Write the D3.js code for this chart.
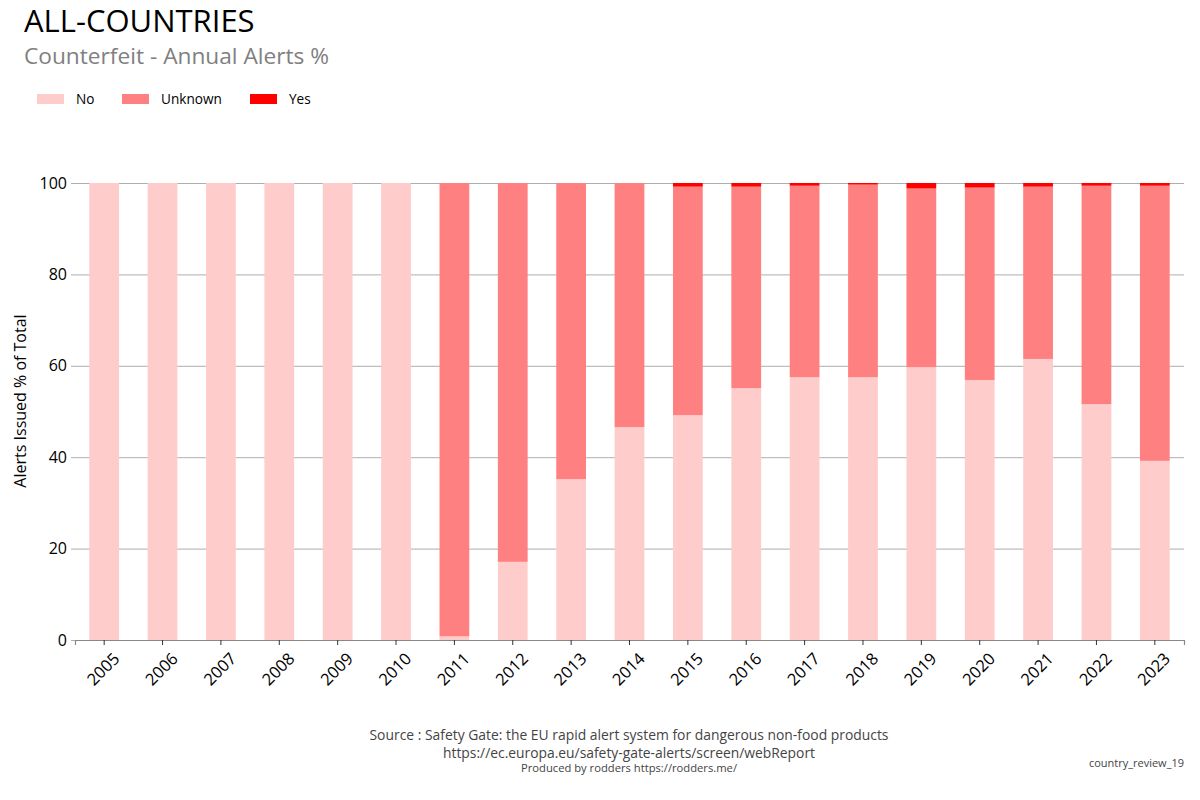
<!DOCTYPE html>
<html>
<head>
<meta charset="utf-8">
<script src="https://cdn.jsdelivr.net/npm/d3@7"></script>
<style>
  body { margin: 0; background: #fff; }
  svg { font-family: "Open Sans", sans-serif; }
  .grid line { stroke: #999; stroke-width: 0.8; }
  .grid .domain { display: none; }
</style>
</head>
<body>
<div id="chart"></div>
<script>
(function () {

var years = ["2005", "2006", "2007", "2008", "2009", "2010", "2011", "2012", "2013", "2014",
             "2015", "2016", "2017", "2018", "2019", "2020", "2021", "2022", "2023"];
var noPct  = [100, 100, 100, 100, 100, 100, 0.8, 17.1, 35.2, 46.6,
              49.2, 55.1, 57.5, 57.5, 59.7, 56.9, 61.5, 51.6, 39.2];
var yesPct = [0, 0, 0, 0, 0, 0, 0, 0, 0, 0,
              0.8, 0.8, 0.6, 0.35, 1.2, 1.0, 0.8, 0.6, 0.6];
var keys = ["No", "Unknown", "Yes"];
var colors = ["#ffcccc", "#ff8080", "#ff0000"];
var yTicks = [0, 20, 40, 60, 80, 100];

var width = 1200, height = 800;
var margin = {top: 183, right: 16, bottom: 160, left: 75};

var rows = years.map(function (yr, i) {
  return {year: yr, No: noPct[i], Yes: yesPct[i], Unknown: 100 - noPct[i] - yesPct[i]};
});

var svg = d3.select("#chart").append("svg")
    .attr("width", width)
    .attr("height", height);

var x = d3.scaleBand()
    .domain(years)
    .range([margin.left, width - margin.right])
    .paddingInner(0.49)
    .paddingOuter(0.245);

var y = d3.scaleLinear()
    .domain([0, 100])
    .range([height - margin.bottom, margin.top]);

var color = d3.scaleOrdinal().domain(keys).range(colors);

// grid + left ticks
var yAxis = svg.append("g")
    .attr("class", "grid")
    .attr("transform", "translate(" + margin.left + ",0)")
    .call(d3.axisLeft(y).tickValues(yTicks)
      .tickSize(-(width - margin.left - margin.right)).tickPadding(8));
yAxis.attr("font-family", "Open Sans").attr("font-size", 16);
yAxis.selectAll(".tick line").attr("x1", -4);
yAxis.selectAll("text").attr("fill", "#000");

var series = d3.stack().keys(keys)(rows);

svg.append("g").selectAll("g")
  .data(series)
  .enter().append("g")
    .attr("fill", function (d) { return color(d.key); })
  .selectAll("rect")
  .data(function (d) { return d; })
  .enter().append("rect")
    .attr("x", function (d) { return x(d.data.year); })
    .attr("width", x.bandwidth())
    .attr("y", function (d) { return y(d[1]); })
    .attr("height", function (d) { return y(d[0]) - y(d[1]); });

var xAxis = svg.append("g")
    .attr("transform", "translate(0," + (height - margin.bottom) + ")")
    .call(d3.axisBottom(x).tickSizeOuter(0).tickSize(5));
xAxis.attr("font-family", "Open Sans").attr("font-size", 16.5);
xAxis.select(".domain").attr("stroke", "#888").attr("stroke-width", 1.2);
xAxis.selectAll(".tick line").attr("stroke", "#333");
// rotated labels centred under each tick
xAxis.selectAll("text")
    .attr("fill", "#000")
    .attr("y", 0)
    .attr("dy", "0.35em")
    .style("text-anchor", "middle")
    .attr("transform", "translate(-1,29) rotate(-45)");

// y label
svg.append("text")
    .attr("transform", "translate(26,401) rotate(-90)")
    .attr("text-anchor", "middle")
    .style("font-size", "16px")
    .text("Alerts Issued % of Total");

// titles
svg.append("text").attr("x", 24).attr("y", 32)
    .style("font-size", "31px").attr("fill", "#000").text("ALL-COUNTRIES");
svg.append("text").attr("x", 24).attr("y", 64)
    .style("font-size", "22.7px").attr("fill", "#808080").text("Counterfeit - Annual Alerts %");

// legend
var legendX = [37, 122, 250];
var legend = svg.append("g").selectAll("g")
  .data(keys)
  .enter().append("g")
    .attr("transform", function (d, i) { return "translate(" + legendX[i] + ",94)"; });
legend.append("rect")
    .attr("width", 27).attr("height", 10)
    .attr("fill", function (d) { return color(d); });
legend.append("text")
    .attr("x", 39).attr("y", 10)
    .style("font-size", "13.6px")
    .text(function (d) { return d; });

// footer
var cx = 629;
svg.append("text").attr("x", cx).attr("y", 740).attr("text-anchor", "middle")
    .style("font-size", "14px").attr("fill", "#444")
    .attr("textLength", 519).attr("lengthAdjust", "spacingAndGlyphs")
    .text("Source : Safety Gate: the EU rapid alert system for dangerous non-food products");
svg.append("text").attr("x", cx).attr("y", 758).attr("text-anchor", "middle")
    .style("font-size", "14px").attr("fill", "#444")
    .attr("textLength", 372).attr("lengthAdjust", "spacingAndGlyphs")
    .text("https://ec.europa.eu/safety-gate-alerts/screen/webReport");
svg.append("text").attr("x", cx).attr("y", 772).attr("text-anchor", "middle")
    .style("font-size", "11px").attr("fill", "#444")
    .attr("textLength", 216).attr("lengthAdjust", "spacingAndGlyphs")
    .text("Produced by rodders https://rodders.me/");
svg.append("text").attr("x", 1184).attr("y", 767).attr("text-anchor", "end")
    .style("font-size", "11px").attr("fill", "#444")
    .attr("textLength", 95).attr("lengthAdjust", "spacingAndGlyphs")
    .text("country_review_19");

}).call(this);
</script>
</body>
</html>
